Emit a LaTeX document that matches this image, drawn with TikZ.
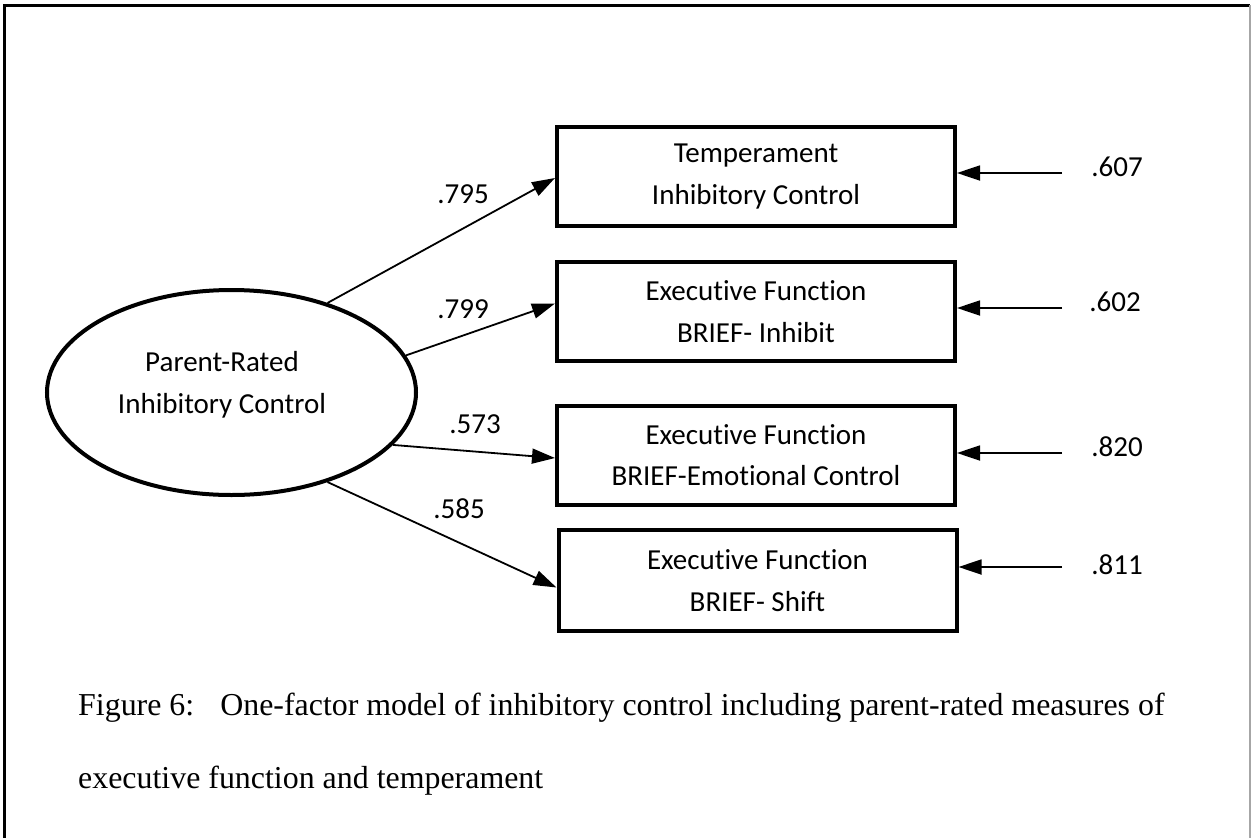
\documentclass[tikz,border=0pt]{standalone}
\usepackage{fontspec}
\setmainfont{Liberation Serif}
\newfontfamily\diagfont{Carlito}[Ligatures=NoCommon]
\usetikzlibrary{arrows.meta,shapes.geometric}

\begin{document}
\begin{tikzpicture}[x=1pt,y=-1pt,
  every node/.style={font=\diagfont\fontsize{29}{41.5}\selectfont, inner sep=0pt},
  measure/.style={draw, line width=4pt, minimum width=398pt, minimum height=99pt, align=center},
  factor/.style={draw, ellipse, line width=4pt, minimum width=369pt, minimum height=205pt},
  load/.style={line width=1.8pt, -{Triangle[length=23pt,width=15pt]}},
  captionline/.style={font=\fontsize{31.9}{40}\selectfont, anchor=base west}
]
\useasboundingbox (0,0) rectangle (1251,838);

% frame
\draw[line width=3pt] (4,838) -- (4,5) -- (1250,5);
\draw[gray!70, line width=1.2pt] (1250,5) -- (1250,838);

% latent factor
\node[factor] (fac) at (231.5,392.5) {};
\node[align=center] (factxt) at (222,385) {Parent-Rated\\Inhibitory Control};

% observed measures
\node[measure] (b1) at (756,176.5) {Temperament\\Inhibitory Control};
\node[measure] (b2) at (756,311.5) {Executive Function\\BRIEF- Inhibit};
\node[measure] (b3) at (756,455) {Executive Function\\BRIEF-Emotional Control};
\node[measure, minimum height=101pt] (b4) at (757.5,580.5) {Executive Function\\BRIEF- Shift};

% factor loadings
\draw[load] (fac.43.8) -- ([yshift=-1.5pt]b1.west);
\draw[load] (fac.12.4) -- ([yshift=8pt]b2.west);
\draw[load] (fac.-18.5) -- ([yshift=-3pt]b3.west);
\draw[load] (fac.-43.2) -- ([yshift=-7pt]b4.west);

\node (l1) at (463,194) {.795};
\node (l2) at (463,309) {.799};
\node (l3) at (475,424) {.573};
\node (l4) at (459,509) {.585};

% residual terms
\coordinate (r1) at (1062,173);
\coordinate (r2) at (1062,308);
\coordinate (r3) at (1062,453);
\coordinate (r4) at (1062,567);
\draw[load] (r1) -- (r1 -| b1.east);
\draw[load] (r2) -- (r2 -| b2.east);
\draw[load] (r3) -- (r3 -| b3.east);
\draw[load] (r4) -- (r4 -| b4.east);

\node (e1) at (1117,167) {.607};
\node (e2) at (1115,302) {.602};
\node (e3) at (1117,447) {.820};
\node (e4) at (1117,565) {.811};

% caption
\node[captionline] (cap1) at (78,715) {Figure 6:\hspace{26pt}One-factor model of inhibitory control including parent-rated measures of};
\node[captionline] (cap2) at (78,788) {executive function and temperament};
\end{tikzpicture}
\end{document}
